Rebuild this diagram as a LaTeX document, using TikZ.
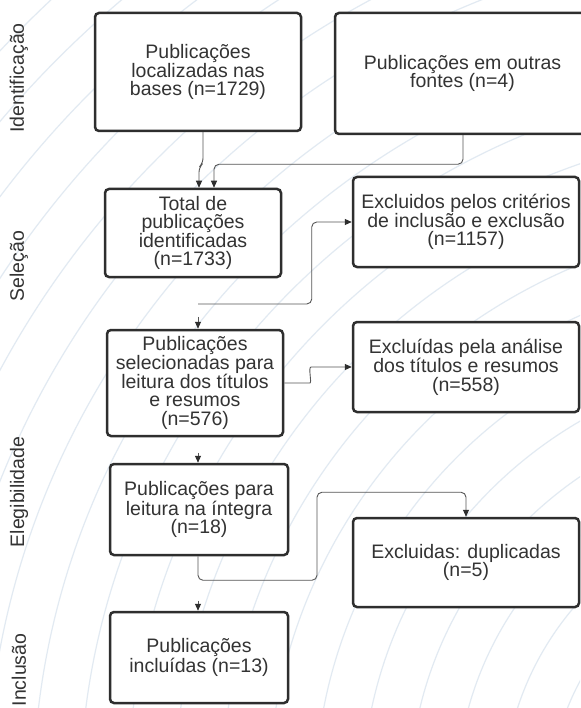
\documentclass[tikz,border=0pt]{standalone}
\usepackage{fontspec}
\setmainfont{Liberation Sans}
\usetikzlibrary{arrows.meta}
\definecolor{bord}{HTML}{2E2E2E}
\definecolor{txt}{HTML}{333333}
\definecolor{lnk}{HTML}{555555}
\definecolor{wm}{HTML}{E2EAF2}
\begin{document}
\begin{tikzpicture}[x=1pt,y=-1pt,
  box/.style={draw=bord, line width=2.5pt, rounded corners=4pt, fill=white,
    align=center, text=txt, inner sep=0pt,
    font=\fontsize{19.5pt}{18.4pt}\selectfont},
  side/.style={rotate=90, text=txt, inner sep=0pt,
    font=\fontsize{19.5pt}{18.4pt}\selectfont},
  link/.style={draw=lnk, line width=0.9pt, rounded corners=5pt},
  tip/.style={-{Triangle[length=7pt,width=6pt,color=bord]}}]
\useasboundingbox (0,0) rectangle (580,708);
\fill[white] (0,0) rectangle (580,708);
\begin{scope}
  \clip (0,0) rectangle (580,708);
  \foreach \k in {0,...,20}
    \draw[wm, line width=1.2pt] (800,800) circle[radius={(250+47*\k)*1pt}];
\end{scope}

% side labels
\node[side] (l1) at (19,78) {Identificação};
\node[side] (l2) at (19,266) {Seleção};
\node[side] (l3) at (19,492) {Elegibilidade};
\node[side] (l4) at (19,670) {Inclusão};

% boxes
\node[box, minimum width=206pt, minimum height=118pt] (A) at (198,72)
  {Publicações\\localizadas nas\\bases (n=1729)};
\node[box, minimum width=255pt, minimum height=121pt] (B) at (462.5,73.5)
  {Publicações em outras\\fontes (n=4)};
\node[box, minimum width=176pt, minimum height=88pt] (C) at (193,233)
  {Total de\\publicações\\identificadas\\(n=1733)};
\node[box, minimum width=226pt, minimum height=90pt] (D) at (466,222)
  {Excluidos pelos critérios\\de inclusão e exclusão\\(n=1157)};
\node[box, minimum width=176pt, minimum height=106pt] (E) at (195,383)
  {Publicações\\selecionadas para\\leitura dos títulos\\e resumos\\(n=576)};
\node[box, minimum width=226pt, minimum height=90pt] (F) at (466,367)
  {Excluídas pela análise\\dos títulos e resumos\\(n=558)};
\node[box, minimum width=178pt, minimum height=91pt] (G) at (199,509.5)
  {Publicações para\\leitura na íntegra\\(n=18)};
\node[box, minimum width=226pt, minimum height=89pt] (H) at (466,562.5)
  {Excluidas: duplicadas\\(n=5)};
\node[box, minimum width=178pt, minimum height=91pt] (I) at (199,657.5)
  {Publicações\\incluídas (n=13)};

% connectors
\draw[link,tip] ([xshift=5pt]A.south) -- ++(0,31) -- ++(-4,4) -- ([xshift=6pt]C.north);
\draw[link,tip] ([xshift=0.5pt]B.south) -- ++(0,29) -| ([xshift=21pt]C.north);
\coordinate (cd) at (198,304);
\draw[link,tip] (cd) -| ([xshift=-40pt]D.west) -- (D.west);
\draw[link,tip] ([xshift=3pt]E.north) ++(0,-12) -- ([xshift=3pt]E.north);
\draw[link,tip] (E.east) -- (305,383) .. controls (312,383) and (308,367) .. (316,367) -- (F.west);
\draw[link,tip] ([xshift=-1pt]G.north) ++(0,-10) -- ([xshift=-1pt]G.north);
\draw[link,tip] ([xshift=-1pt]G.south) -- ++(0,24) -- ++(119,0) -- ++(0,-88) -| (H.north);
\draw[link,tip] ([xshift=-1pt]I.north) ++(0,-10) -- ([xshift=-1pt]I.north);
\end{tikzpicture}
\end{document}
